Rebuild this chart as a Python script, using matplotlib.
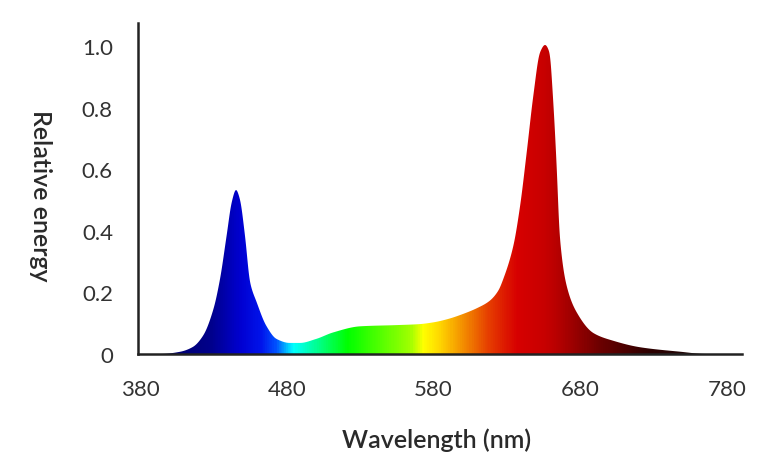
import numpy as np
import matplotlib.pyplot as plt
from matplotlib.colors import LinearSegmentedColormap

# spectrum (nm, relative energy)
wavelength = [380, 394, 407, 416, 423, 430, 434.5, 439, 442.5, 445.4, 448, 451.5, 455,
              459.5, 466, 473, 482, 489, 500, 511.5, 530, 555, 570, 580, 590, 600, 610, 618,
              624, 628, 634.4, 639, 643.5, 648, 652.6, 656, 659, 661.6, 664, 666, 670.7,
              677.5, 689, 702.5, 720.7, 748, 766, 790]
energy = [0, 0, 0.007, 0.023, 0.06, 0.146, 0.244, 0.385, 0.494, 0.534, 0.504, 0.385, 0.233,
          0.168, 0.092, 0.049, 0.036, 0.036, 0.049, 0.07, 0.09, 0.094, 0.097, 0.103, 0.114,
          0.13, 0.15, 0.172, 0.205, 0.25, 0.352, 0.482, 0.656, 0.84, 0.981, 1.005, 0.98, 0.818,
          0.60, 0.385, 0.222, 0.136, 0.068, 0.043, 0.022, 0.0075, 0, 0]

# colour of the fill along the wavelength axis
color_nm = [380, 400, 428, 448, 462, 472, 484, 521, 564, 573, 584, 605, 618, 637, 656, 666,
            693, 727, 762, 790]
color_rgb = [(0, 0, 90), (0, 0, 110), (0, 0, 140), (0, 0, 210), (0, 20, 235), (0, 80, 255),
             (0, 255, 255), (0, 255, 0), (160, 255, 0), (255, 255, 0), (255, 215, 0),
             (240, 120, 0), (230, 60, 0), (215, 0, 0), (200, 0, 0), (180, 0, 0), (110, 0, 0),
             (45, 0, 0), (30, 10, 10), (30, 10, 10)]

xticks = [380, 480, 580, 680, 780]
yticks = [0, 0.2, 0.4, 0.6, 0.8, 1.0]
ytick_labels = ["0", "0.2", "0.4", "0.6", "0.8", "1.0"]


def pchip(x, y, xn):
    # monotone cubic so the curve stays smooth without overshoot
    x = np.asarray(x, float)
    y = np.asarray(y, float)
    h = np.diff(x)
    d = np.diff(y) / h
    m = np.zeros_like(y)
    for i in range(1, len(x) - 1):
        if d[i - 1] * d[i] > 0:
            w1 = 2 * h[i] + h[i - 1]
            w2 = h[i] + 2 * h[i - 1]
            m[i] = (w1 + w2) / (w1 / d[i - 1] + w2 / d[i])
    idx = np.clip(np.searchsorted(x, xn) - 1, 0, len(x) - 2)
    t = (xn - x[idx]) / h[idx]
    h00 = 2 * t**3 - 3 * t**2 + 1
    h10 = t**3 - 2 * t**2 + t
    h01 = -2 * t**3 + 3 * t**2
    h11 = t**3 - t**2
    return h00 * y[idx] + h10 * h[idx] * m[idx] + h01 * y[idx + 1] + h11 * h[idx] * m[idx + 1]


plt.rcParams['font.family'] = ['Lato', 'DejaVu Sans']

fig = plt.figure(figsize=(7.82, 4.64), dpi=100)
ax = fig.add_axes([138 / 782, 1 - 355 / 464, 604 / 782, 331 / 464])

x0, x1 = 378.6, 790.2
y1 = 1.076
ax.set_xlim(x0, x1)
ax.set_ylim(0, y1)

xs = np.linspace(380, 790, 2000)
ys = pchip(wavelength, energy, xs)
k = np.ones(7) / 7
ys = np.convolve(np.pad(ys, 3, mode='edge'), k, mode='valid')

poly = ax.fill_between(xs, 0, ys, color='none', lw=0)

stops = [(c - color_nm[0]) / (color_nm[-1] - color_nm[0]) for c in color_nm]
cmap = LinearSegmentedColormap.from_list(
    'spec', list(zip(stops, [tuple(v / 255 for v in c) for c in color_rgb])))
grad = np.linspace(0, 1, 800).reshape(1, -1)
img = ax.imshow(grad, cmap=cmap, aspect='auto', extent=(color_nm[0], color_nm[-1], 0, y1),
                origin='lower', interpolation='bilinear')
img.set_clip_path(poly.get_paths()[0], transform=ax.transData)

for s in ['top', 'right']:
    ax.spines[s].set_visible(False)
for s in ['left', 'bottom']:
    ax.spines[s].set_color('#222222')
    ax.spines[s].set_linewidth(1.8)

ax.set_xticks(xticks)
ax.set_yticks(yticks)
ax.set_yticklabels(ytick_labels)
ax.tick_params(axis='both', length=0, labelsize=16, labelcolor='#333333')
ax.tick_params(axis='x', pad=18)
ax.tick_params(axis='y', pad=18)

fig.text(437 / 782, 1 - 440 / 464, "Wavelength (nm)", ha='center', va='center',
         fontsize=18, fontweight='semibold', color='#2a2a2a')
fig.text(40 / 782, 1 - 196 / 464, "Relative energy", ha='center', va='center',
         rotation=270, fontsize=18, fontweight='semibold', color='#2a2a2a')

fig.savefig('out.png', dpi=100)
